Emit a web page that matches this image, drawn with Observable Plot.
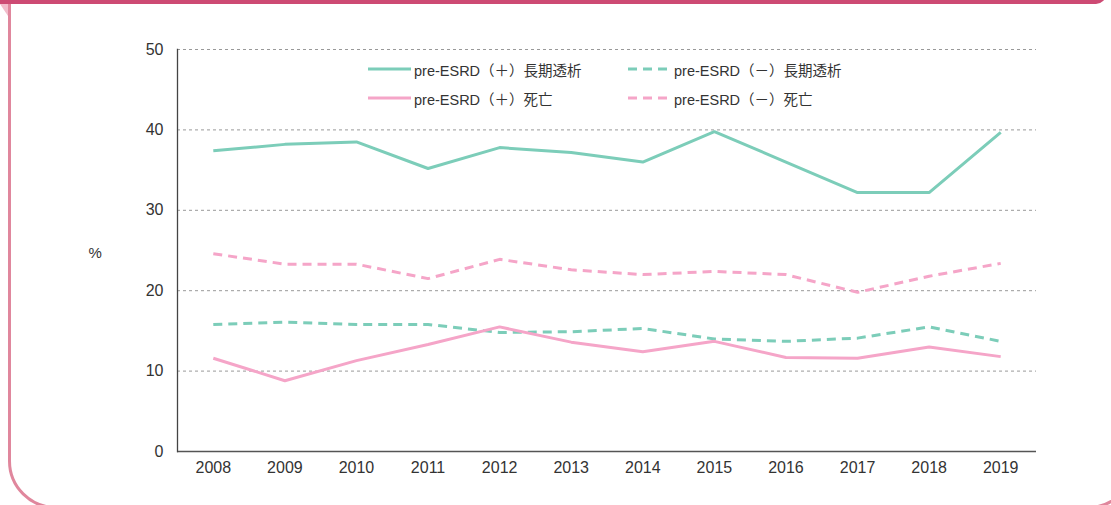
<!DOCTYPE html>
<html>
<head>
<meta charset="utf-8">
<script src="https://cdn.jsdelivr.net/npm/d3@7"></script>
<script src="https://cdn.jsdelivr.net/npm/@observablehq/plot@0.6"></script>
<style>
  html, body { margin: 0; padding: 0; background: #fff; overflow: hidden; width: 1111px; height: 505px; }
  #wrap { position: relative; width: 1111px; height: 505px; overflow: hidden; font-family: "Liberation Sans", Arial, "Noto Sans CJK JP", sans-serif; }
  .frame { position: absolute; left: 8px; top: -50px; width: 1128px; height: 559px; box-sizing: border-box; border: 3px solid #e0879d; border-radius: 48px; }
  .header { position: absolute; left: 0; top: -50px; width: 1106px; height: 54px; background: #cd4a73; border-bottom-right-radius: 10px; }
  .tri { position: absolute; left: 0; top: 4px; width: 0; height: 0; border-top: 12px solid #f2bccb; border-left: 8px solid transparent; }
  #chart { position: absolute; left: 0; top: 0; }
  .legend { position: absolute; left: 0; top: 0; font-size: 14.5px; color: #333; font-family: "Liberation Sans", Arial, "Noto Sans CJK JP", sans-serif; }
  .item { position: absolute; white-space: nowrap; display: flex; align-items: center; }
  .item svg { margin-right: 3px; }
</style>
</head>
<body>
<div id="wrap">
  <div class="frame"></div>
  <div class="header"></div>
  <div class="tri"></div>
  <div id="chart"></div>
  <div class="legend" id="legend"></div>
</div>
<script>
const years = ["2008","2009","2010","2011","2012","2013","2014","2015","2016","2017","2018","2019"];
const seriesNames = ["pre-ESRD（＋）長期透析", "pre-ESRD（－）長期透析", "pre-ESRD（＋）死亡", "pre-ESRD（－）死亡"];
const dialysisPos = [37.4, 38.2, 38.5, 35.2, 37.8, 37.2, 36.0, 39.8, 36.0, 32.2, 32.2, 39.7];
const dialysisNeg = [15.8, 16.1, 15.8, 15.8, 14.8, 14.9, 15.3, 14.0, 13.7, 14.1, 15.5, 13.7];
const deathPos   = [11.6, 8.8, 11.3, 13.3, 15.5, 13.6, 12.4, 13.7, 11.7, 11.6, 13.0, 11.8];
const deathNeg   = [24.6, 23.3, 23.3, 21.5, 23.9, 22.6, 22.0, 22.4, 22.0, 19.8, 21.8, 23.4];
const yTicks = [0, 10, 20, 30, 40, 50];

const green = "#7ccdb9";
const pink = "#f5a5c8";
const styles = [
  {stroke: green, dash: null},
  {stroke: green, dash: "9,6"},
  {stroke: pink, dash: null},
  {stroke: pink, dash: "9,6"}
];
const values = [dialysisPos, dialysisNeg, deathPos, deathNeg];
const rows = [];
values.forEach((arr, s) => arr.forEach((v, i) => rows.push({series: seriesNames[s], year: years[i], value: v})));

const lineMarks = seriesNames.map((name, s) =>
  Plot.line(rows.filter(d => d.series === name), {
    x: "year", y: "value",
    stroke: styles[s].stroke, strokeWidth: 3,
    strokeDasharray: styles[s].dash ?? undefined,
    strokeLinejoin: "miter", strokeLinecap: "butt"
  })
);

const chart = Plot.plot({
  width: 1111,
  height: 505,
  marginLeft: 177,
  marginRight: 75,
  marginTop: 49,
  marginBottom: 54,
  style: {fontFamily: '"Liberation Sans", Arial, sans-serif', fontSize: "16px", color: "#333", background: "transparent"},
  x: {type: "point", domain: years, padding: 0.5, round: false},
  y: {domain: [0, 50]},
  marks: [
    Plot.gridY(yTicks.filter(t => t > 0), {stroke: "#999", strokeOpacity: 1, strokeDasharray: "3,3"}),
    Plot.axisY(yTicks, {tickSize: 0, tickPadding: 14, label: null, fill: "#333", fontSize: 16}),
    Plot.axisX(years, {tickSize: 0, tickPadding: 10, label: null, fill: "#333", fontSize: 16}),
    Plot.ruleY([0], {stroke: "#555", strokeWidth: 1.3}),
    Plot.frame({anchor: "left", stroke: "#444", strokeWidth: 1.3}),
    Plot.text(["%"], {frameAnchor: "left", dx: -89, dy: 3, fill: "#333", fontSize: 15}),
    ...lineMarks
  ]
});
document.getElementById("chart").appendChild(chart);

// legend
const legendPos = [
  {left: 368, top: 69}, {left: 628, top: 69},
  {left: 368, top: 98}, {left: 628, top: 98}
];
const leg = document.getElementById("legend");
seriesNames.forEach((name, s) => {
  const div = document.createElement("div");
  div.className = "item";
  div.style.left = legendPos[s].left + "px";
  div.style.top = (legendPos[s].top - 10) + "px";
  div.style.height = "20px";
  const dash = styles[s].dash ? `stroke-dasharray="9,6"` : "";
  div.innerHTML = `<svg width="43" height="6"><line x1="0" y1="3" x2="43" y2="3" stroke="${styles[s].stroke}" stroke-width="3" ${dash}/></svg><span>${name}</span>`;
  leg.appendChild(div);
});
</script>
</body>
</html>
